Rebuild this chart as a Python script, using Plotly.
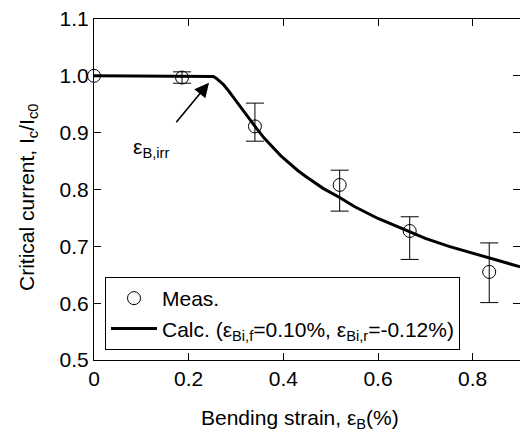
import plotly.graph_objects as go

# Measured data
meas_x = [0.0, 0.186, 0.340, 0.519, 0.667, 0.835]
meas_y = [1.0, 0.997, 0.911, 0.808, 0.727, 0.655]
err_plus = [0.0, 0.010, 0.041, 0.026, 0.025, 0.051]
err_minus = [0.0, 0.010, 0.026, 0.046, 0.050, 0.054]

# Calculated curve
calc_x = [0.0, 0.245, 0.252, 0.258, 0.265, 0.273, 0.282, 0.290, 0.308, 0.325, 0.343,
          0.360, 0.378, 0.395, 0.413, 0.431, 0.449, 0.466, 0.484, 0.519,
          0.55, 0.60, 0.65, 0.70, 0.75, 0.80, 0.85, 0.90]
calc_y = [1.0, 1.0, 0.999, 0.996, 0.991, 0.985, 0.976, 0.967, 0.946, 0.927, 0.908,
          0.890, 0.874, 0.859, 0.846, 0.833, 0.822, 0.812, 0.802, 0.786,
          0.770, 0.749, 0.731, 0.714, 0.700, 0.688, 0.676, 0.664]

x_ticks = [0, 0.2, 0.4, 0.6, 0.8]
x_tick_labels = ["0", "0.2", "0.4", "0.6", "0.8"]
y_ticks = [0.5, 0.6, 0.7, 0.8, 0.9, 1.0, 1.1]
y_tick_labels = ["0.5", "0.6", "0.7", "0.8", "0.9", "1.0", "1.1"]

FONT = "Liberation Sans, Arial, sans-serif"


def sub(t):
    return "<sub>%s</sub>" % t


fig = go.Figure()
fig.add_trace(go.Scatter(
    x=meas_x, y=meas_y, mode="markers", name="Meas.",
    marker=dict(symbol="circle-open", size=13, color="black", line=dict(width=1)),
    error_y=dict(type="data", symmetric=False, array=err_plus, arrayminus=err_minus,
                 color="black", thickness=1, width=9),
    cliponaxis=False,
))
fig.add_trace(go.Scatter(
    x=calc_x, y=calc_y, mode="lines",
    name="Calc. (ε" + sub("Bi,f") + "=0.10%, ε" + sub("Bi,r") + "=-0.12%)",
    line=dict(color="black", width=3),
))

axis_common = dict(showline=True, linecolor="black", linewidth=1, mirror="ticks",
                   ticks="inside", ticklen=7, tickwidth=1, tickcolor="black",
                   showgrid=False, zeroline=False,
                   tickfont=dict(family=FONT, size=21, color="black"))

fig.update_xaxes(range=[0, 0.9], tickvals=x_ticks, ticktext=x_tick_labels, **axis_common)
fig.update_yaxes(range=[0.5, 1.1], tickvals=y_ticks, ticktext=y_tick_labels, **axis_common)

fig.add_annotation(x=0.243, y=0.988, xref="x", yref="y", ax=-34, ay=41,
                   text="", showarrow=True, arrowhead=2, arrowsize=1.8,
                   arrowwidth=1.6, arrowcolor="black")
fig.add_annotation(x=0.12, y=0.873, xref="x", yref="y", showarrow=False,
                   xanchor="center", yanchor="middle",
                   text="ε" + sub("B,irr"), font=dict(family=FONT, size=21, color="black"))

fig.add_annotation(x=(300 - 94) / 426, y=-0.13, xref="paper", yref="paper",
                   xanchor="center", yanchor="top", showarrow=False,
                   text="Bending strain, ε" + sub("B") + "(%)",
                   font=dict(family=FONT, size=21, color="black"))
fig.add_annotation(x=(28 - 94) / 426, y=1 - (198 - 19) / 341, xref="paper", yref="paper",
                   xanchor="center", yanchor="middle",
                   textangle=-90, showarrow=False,
                   text="Critical current, I" + sub("c") + "/I" + sub("c0"),
                   font=dict(family=FONT, size=21, color="black"))

fig.update_layout(
    width=520, height=433,
    margin=dict(l=94, r=0, t=19, b=73),
    paper_bgcolor="white", plot_bgcolor="white",
    showlegend=True,
    legend=dict(x=(105 - 94) / 426, y=1 - (277 - 19) / 341, xanchor="left", yanchor="top",
                bordercolor="black", borderwidth=1, bgcolor="white",
                font=dict(family=FONT, size=21, color="black"),
                itemwidth=46, tracegroupgap=0),
    font=dict(family=FONT, size=21, color="black"),
)

fig.write_html("out.html")
